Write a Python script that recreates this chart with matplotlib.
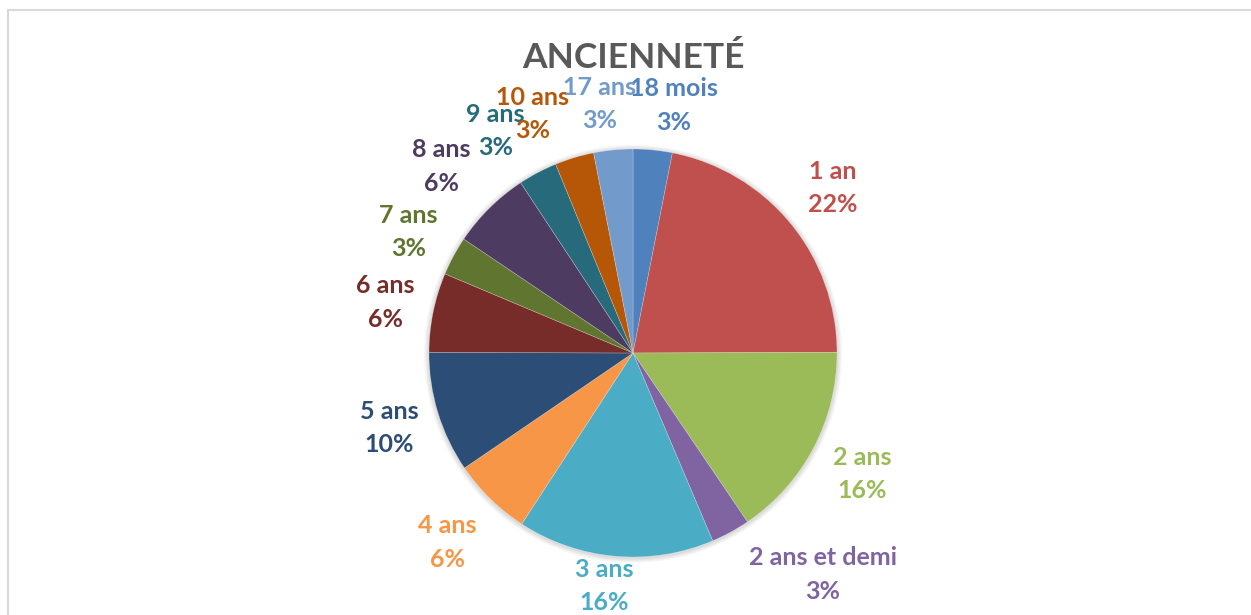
import numpy as np
import matplotlib.pyplot as plt
from matplotlib.lines import Line2D
from matplotlib.patches import Circle

plt.rcParams['font.family'] = ['Lato', 'DejaVu Sans']

# ancienneté (%)
labels = ['18 mois', '1 an', '2 ans', '2 ans et demi', '3 ans', '4 ans', '5 ans',
          '6 ans', '7 ans', '8 ans', '9 ans', '10 ans', '17 ans']
values = [3.1, 21.9, 15.6, 3.1, 15.6, 6.3, 9.6, 6.3, 3.1, 6.3, 3.1, 3.1, 3.1]
colors = ['#4F81BD', '#C0504D', '#9BBB59', '#8064A2', '#4BACC6', '#F79646', '#2C4D75',
          '#772C2A', '#5F7530', '#4D3B62', '#276A7C', '#B65708', '#729ACA']

# label placement (radius factor, angle tweak in degrees, clockwise)
label_r = [1.23, 1.27, 1.27, 1.43, 1.15, 1.30, 1.25, 1.24, 1.25, 1.31, 1.28, 1.27, 1.23]
label_shift = [3.8, 0, 0, -12, 2, 0, 0, 0, 0, -1, -4, -6, -2]

W, H = 1251, 615
cx, cy, R = 633, 353, 204

fig = plt.figure(figsize=(W / 100, H / 100), dpi=100)
ax = fig.add_axes([0, 0, 1, 1])

# soft shadow
for k in range(4):
    ax.add_patch(Circle((0, -0.004), 1 + 0.006 * (k + 1), color='#000000', alpha=0.035, lw=0, zorder=0))

wedges, _ = ax.pie(values, colors=colors, startangle=90, counterclock=False,
                   radius=1, wedgeprops=dict(linewidth=0.4, edgecolor='#ffffff60', zorder=1))

ax.set_xlim(-cx / R, (W - cx) / R)
ax.set_ylim(-(H - cy) / R, cy / R)
ax.set_aspect('equal')
ax.axis('off')

total = sum(values)
for w, lab, v, col, r, sh in zip(wedges, labels, values, colors, label_r, label_shift):
    mid = np.deg2rad((w.theta1 + w.theta2) / 2 - sh)
    x, y = r * np.cos(mid), r * np.sin(mid)
    pct = '{:.0f}%'.format(100 * v / total)
    ax.text(x, y, lab + '\n' + pct, ha='center', va='center', color=col,
            fontsize=18, fontweight='bold', linespacing=1.55)

fig.text(cx / W, 1 - 58 / H, 'ANCIENNETÉ', ha='center', va='center',
         fontsize=25.5, fontweight='bold', color='#595959')

# chart frame
fig.add_artist(Line2D([7.5 / W, 1.01], [1 - 9.5 / H, 1 - 9.5 / H], color='#D9D9D9', lw=1.5))
fig.add_artist(Line2D([7.5 / W, 7.5 / W], [1 - 9.5 / H, -0.01], color='#D9D9D9', lw=1.5))

fig.savefig('out.png', dpi=100)
